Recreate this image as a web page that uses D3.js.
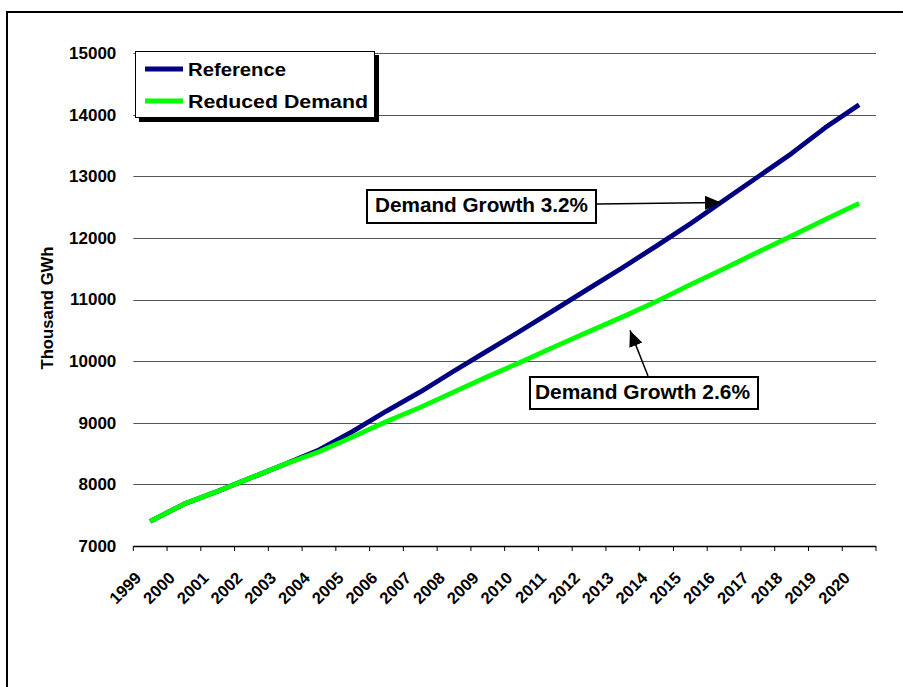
<!DOCTYPE html>
<html>
<head>
<meta charset="utf-8">
<script src="https://cdn.jsdelivr.net/npm/d3@7"></script>
<style>
  html, body { margin: 0; padding: 0; background: #fff; }
  svg { display: block; }
  text { font-family: Arial, "Liberation Sans", sans-serif; font-weight: bold; fill: #000; }
</style>
</head>
<body>
<script>
const years = ["1999","2000","2001","2002","2003","2004","2005","2006","2007","2008","2009","2010","2011","2012","2013","2014","2015","2016","2017","2018","2019","2020"];
const referenceValues = [7400,7680,7890,8110,8330,8560,8860,9190,9500,9840,10170,10500,10840,11180,11520,11870,12230,12610,12990,13370,13790,14160];
const reducedValues = [7400,7680,7890,8110,8330,8530,8770,9020,9250,9500,9750,9990,10240,10480,10720,10970,11240,11500,11770,12030,12300,12560];
const yTicks = [7000,8000,9000,10000,11000,12000,13000,14000,15000];
const seriesNames = ["Reference","Reduced Demand"];
const seriesColors = ["#000080","#00ff00"];
const annotationTexts = ["Demand Growth 3.2%","Demand Growth 2.6%"];

const W = 903, H = 687;
const svg = d3.select("body").append("svg").attr("width", W).attr("height", H);

// outer frame (left + top visible)
svg.append("line").attr("x1", 7).attr("x2", 7).attr("y1", 11).attr("y2", H).attr("stroke", "#000").attr("stroke-width", 2);
svg.append("line").attr("x1", 6).attr("x2", W).attr("y1", 12).attr("y2", 12).attr("stroke", "#000").attr("stroke-width", 2);

const plot = {left: 133.3, right: 876, top: 53, bottom: 546};
const x = d3.scaleBand().domain(years).range([plot.left, plot.right]).padding(0);
const y = d3.scaleLinear().domain([7000, 15000]).range([plot.bottom, plot.top]);
const cx = d => x(d) + x.bandwidth() / 2;

// gridlines
svg.append("g").selectAll("line").data(yTicks.filter(v => v > 7000)).join("line")
  .attr("x1", plot.left).attr("x2", plot.right)
  .attr("y1", d => Math.round(y(d)) + 0.5).attr("y2", d => Math.round(y(d)) + 0.5)
  .attr("stroke", "#555").attr("stroke-width", 1.2);

// y axis labels
const yAxis = svg.append("g").attr("transform", `translate(${plot.left},0)`)
  .call(d3.axisLeft(y).tickValues(yTicks).tickSize(0).tickPadding(17).tickFormat(d3.format("d")));
yAxis.select(".domain").remove();
yAxis.selectAll("text").style("font-size", "17px").style("font-family", "Arial, 'Liberation Sans', sans-serif").style("font-weight", "bold").attr("fill", "#000");

// x axis line + ticks at category boundaries
svg.append("line").attr("x1", plot.left).attr("x2", plot.right)
  .attr("y1", plot.bottom + 0.5).attr("y2", plot.bottom + 0.5).attr("stroke", "#000").attr("stroke-width", 1.5);
const bounds = years.map(d => x(d)).concat([x(years[years.length - 1]) + x.bandwidth()]);
svg.append("g").selectAll("line").data(bounds).join("line")
  .attr("x1", d => d).attr("x2", d => d)
  .attr("y1", plot.bottom).attr("y2", plot.bottom + 5)
  .attr("stroke", "#000").attr("stroke-width", 1);

// x tick labels
svg.append("g").selectAll("text").data(years).join("text")
  .attr("transform", d => `translate(${cx(d) - 8},${579}) rotate(-45)`)
  .attr("text-anchor", "end")
  .style("font-size", "16.5px")
  .text(d => d);

// y axis title
svg.append("text")
  .attr("transform", `translate(53,${308}) rotate(-90)`)
  .attr("text-anchor", "middle")
  .style("font-size", "16.5px")
  .attr("textLength", 123).attr("lengthAdjust", "spacingAndGlyphs")
  .text("Thousand GWh");

// lines
const lineGen = d3.line().x((d, i) => cx(years[i])).y(d => y(d));
[referenceValues, reducedValues].forEach((vals, k) => {
  svg.append("path").datum(vals)
    .attr("d", lineGen)
    .attr("fill", "none")
    .attr("stroke", seriesColors[k])
    .attr("stroke-width", 4.8)
    .attr("stroke-linejoin", "round");
});

// annotations
const defs = svg.append("defs");
defs.append("marker").attr("id", "arrow").attr("viewBox", "0 0 16 14")
  .attr("refX", 16).attr("refY", 7).attr("markerWidth", 16).attr("markerHeight", 14)
  .attr("markerUnits", "userSpaceOnUse").attr("orient", "auto")
  .append("path").attr("d", "M0,0 L16,7 L0,14 Z").attr("fill", "#000");

function annotation(text, bx, by, bw, bh, tx, ty, tw, ax1, ay1, ax2, ay2) {
  svg.append("line").attr("x1", ax1).attr("y1", ay1).attr("x2", ax2).attr("y2", ay2)
    .attr("stroke", "#000").attr("stroke-width", 1.5).attr("marker-end", "url(#arrow)");
  svg.append("rect").attr("x", bx).attr("y", by).attr("width", bw).attr("height", bh)
    .attr("fill", "#fff").attr("stroke", "#000").attr("stroke-width", 2);
  svg.append("text").attr("x", tx).attr("y", ty).style("font-size", "20px")
    .attr("textLength", tw).attr("lengthAdjust", "spacingAndGlyphs").text(text);
}
const tip1x = 721, tip1y = y(referenceValues[16]) + (721 - cx("2015")) / x.bandwidth() * (y(referenceValues[17]) - y(referenceValues[16]));
annotation(annotationTexts[0], 367, 190, 229, 33, 375, 212, 213, 597, 204, tip1x, tip1y);
const tip2x = 630, tip2y = y(reducedValues[13]) + (630 - cx("2013")) / x.bandwidth() * (y(reducedValues[14]) - y(reducedValues[13])) + 2;
annotation(annotationTexts[1], 530, 377, 228, 32, 535, 399, 215, 648, 376, tip2x, tip2y);

// legend
const lg = svg.append("g");
lg.append("rect").attr("x", 139).attr("y", 55).attr("width", 240).attr("height", 67).attr("fill", "#000");
lg.append("rect").attr("x", 135.5).attr("y", 51.5).attr("width", 239).attr("height", 66).attr("fill", "#fff").attr("stroke", "#000").attr("stroke-width", 1);
const legendWidths = [98, 180];
seriesNames.forEach((name, k) => {
  const ly = 69 + k * 32;
  lg.append("line").attr("x1", 145).attr("x2", 183).attr("y1", ly).attr("y2", ly)
    .attr("stroke", seriesColors[k]).attr("stroke-width", 4.8);
  lg.append("text").attr("x", 188).attr("y", ly + 7).style("font-size", "18px")
    .attr("textLength", legendWidths[k]).attr("lengthAdjust", "spacingAndGlyphs").text(name);
});
</script>
</body>
</html>
